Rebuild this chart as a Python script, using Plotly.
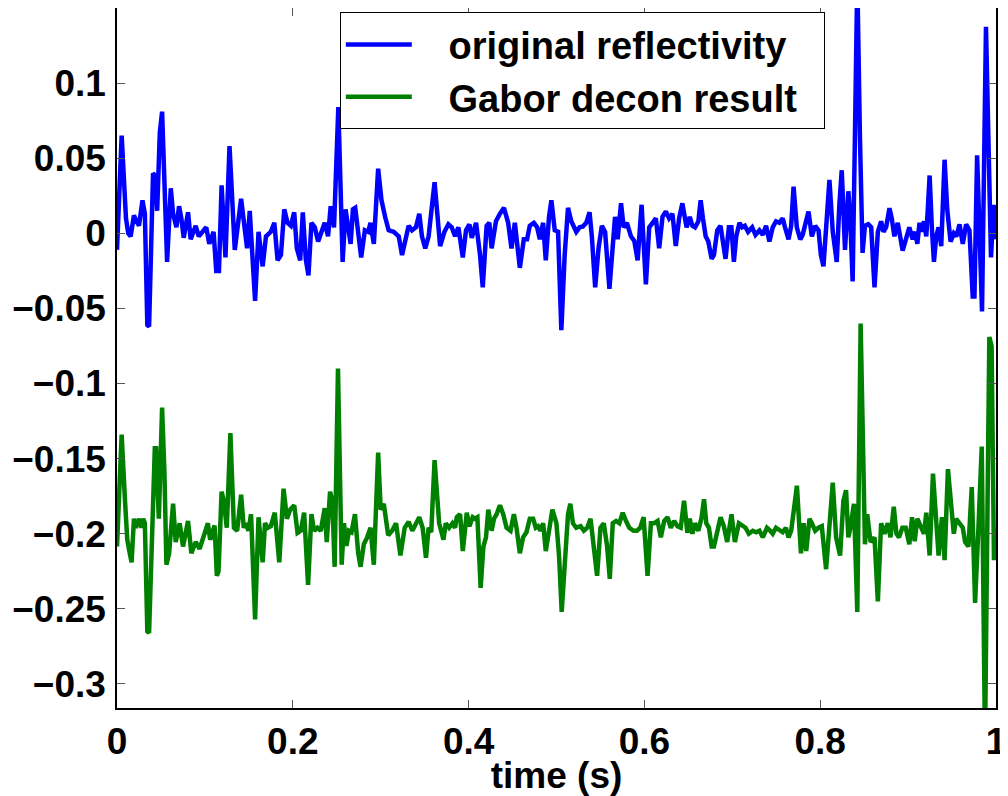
import plotly.graph_objects as go

# ---------------- data ----------------
t_orig = [0.0, 0.0053, 0.0102, 0.0128, 0.0155, 0.0193, 0.0223, 0.025, 0.029, 0.0317,
          0.0345, 0.0365, 0.041, 0.0438, 0.0457, 0.0487, 0.0513, 0.054, 0.057, 0.0612,
          0.0638, 0.0676, 0.0706, 0.0732, 0.0759, 0.0808, 0.0838, 0.0895, 0.093, 0.1015,
          0.105, 0.1099, 0.1129, 0.116, 0.119, 0.1234, 0.128, 0.134, 0.1412, 0.1457,
          0.148, 0.151, 0.1571, 0.161, 0.1657, 0.1695, 0.175, 0.179, 0.1827, 0.1865,
          0.1903, 0.194, 0.1978, 0.2016, 0.2046, 0.2084, 0.2114, 0.2148, 0.2178, 0.2212,
          0.225, 0.2288, 0.2326, 0.2363, 0.2401, 0.2431, 0.2469, 0.2518, 0.2567, 0.260,
          0.2658, 0.2684, 0.271, 0.2752, 0.2778, 0.282, 0.2858, 0.2884, 0.2922, 0.2971,
          0.3009, 0.3054, 0.3091, 0.3148, 0.3205, 0.3243, 0.328, 0.3318, 0.3356, 0.3401,
          0.3439, 0.3469, 0.3507, 0.3545, 0.3613, 0.365, 0.3676, 0.3725, 0.377, 0.3808,
          0.3846, 0.3884, 0.3934, 0.3971, 0.4009, 0.4036, 0.4085, 0.413, 0.4161, 0.4205,
          0.4236, 0.4262, 0.4311, 0.4356, 0.4402, 0.445, 0.4488, 0.4526, 0.4583, 0.4628,
          0.4665, 0.4696, 0.4742, 0.478, 0.481, 0.4848, 0.4878, 0.4915, 0.4942, 0.498,
          0.5018, 0.5055, 0.5093, 0.5131, 0.5168, 0.5225, 0.5262, 0.530, 0.5338, 0.5376,
          0.5402, 0.5440, 0.5478, 0.5516, 0.5553, 0.5602, 0.564, 0.5666, 0.5696, 0.5734,
          0.5764, 0.5801, 0.5847, 0.5885, 0.5923, 0.5968, 0.6017, 0.6055, 0.6093, 0.613,
          0.6168, 0.6206, 0.6244, 0.6281, 0.6319, 0.6357, 0.6395, 0.6432, 0.648, 0.6516,
          0.6546, 0.6576, 0.6614, 0.6640, 0.6666, 0.6697, 0.6727, 0.6765, 0.6791, 0.6829,
          0.6866, 0.6893, 0.6923, 0.6961, 0.699, 0.7018, 0.7045, 0.7082, 0.7113, 0.7143,
          0.7180, 0.7226, 0.7264, 0.7309, 0.7347, 0.7384, 0.7422, 0.746, 0.7497, 0.7535,
          0.7573, 0.760, 0.764, 0.767, 0.7697, 0.7734, 0.7773, 0.780, 0.7841, 0.7867,
          0.7905, 0.7943, 0.7981, 0.8008, 0.8037, 0.8075, 0.8105, 0.8143, 0.8188, 0.8218,
          0.8245, 0.8282, 0.8320, 0.8339, 0.8369, 0.8395, 0.8422, 0.8452, 0.8482, 0.8509,
          0.8547, 0.858, 0.8618, 0.8656, 0.8693, 0.872, 0.875, 0.8788, 0.8814, 0.8844,
          0.8882, 0.8938, 0.8976, 0.9014, 0.9052, 0.9080, 0.9105, 0.913, 0.9155, 0.9181,
          0.9207, 0.9245, 0.927, 0.9294, 0.9320, 0.9347, 0.9377, 0.9415, 0.9445, 0.9483,
          0.952, 0.955, 0.9585, 0.9622, 0.966, 0.9698, 0.9735, 0.9755, 0.9785, 0.9811,
          0.9841, 0.9886, 0.9943, 0.9973, 1.0]
v_orig = [-0.011, 0.065, 0.010, 0.000, -0.002, 0.012, 0.008, 0.005, 0.022, 0.013,
          -0.061, -0.062, 0.040, 0.038, 0.015, 0.067, 0.081, 0.028, -0.019, 0.030,
          0.013, 0.004, 0.018, 0.010, -0.003, 0.014, -0.004, 0.005, -0.002, 0.004,
          -0.007, 0.001, -0.025, -0.025, 0.032, -0.016, 0.058, -0.011, 0.023, 0.001,
          -0.010, 0.015, -0.045, 0.001, -0.022, -0.002, 0.001, 0.007, -0.018, -0.0145,
          0.016, 0.007, 0.005, 0.014, -0.010, -0.018, 0.014, -0.0175, -0.028, 0.007,
          0.004, -0.0055, 0.002, 0.007, -0.002, 0.018, 0.004, 0.084, -0.019, 0.016,
          -0.007, 0.016, 0.017, -0.007, -0.016, 0.002, 0.001, 0.007, -0.007, 0.043,
          0.022, 0.010, 0.002, 0.001, -0.002, -0.0145, -0.004, 0.005, 0.002, 0.004,
          0.013, -0.002, -0.010, -0.002, 0.034, 0.010, -0.0085, 0.001, 0.006, 0.004,
          -0.002, 0.004, -0.016, 0.002, 0.006, -0.003, 0.007, -0.0145, -0.036, 0.005,
          0.007, -0.010, 0.008, 0.013, 0.017, 0.007, -0.010, 0.007, -0.023, -0.004,
          -0.004, 0.005, 0.007, 0.004, -0.004, 0.007, -0.018, 0.011, 0.022, 0.002,
          0.001, -0.0645, -0.0145, 0.017, 0.008, 0.001, 0.004, 0.0045, 0.007, 0.014,
          -0.002, -0.036, -0.010, 0.005, 0.001, -0.037, -0.0055, 0.011, -0.004, 0.020,
          0.004, 0.007, -0.002, -0.005, -0.018, 0.019, -0.034, 0.004, 0.007, 0.010,
          -0.010, 0.011, 0.0145, 0.010, 0.013, -0.0085, 0.010, 0.020, 0.004, 0.011,
          0.005, 0.004, 0.008, 0.022, 0.010, -0.002, -0.0055, -0.017, -0.0145, 0.002,
          0.005, -0.007, -0.017, 0.004, 0.004, -0.019, -0.002, 0.007, 0.004, 0.005,
          0.001, 0.004, -0.001, 0.002, -0.001, 0.005, -0.0055, 0.004, 0.008, 0.007,
          0.010, 0.004, -0.004, 0.005, 0.031, 0.004, -0.004, -0.001, 0.008, 0.0145,
          -0.002, 0.005, 0.002, -0.0145, -0.022, 0.013, 0.0355, 0.001, -0.019, 0.019,
          0.042, -0.011, 0.028, 0.014, -0.032, 0.064, 0.170, 0.064, -0.013, 0.005,
          0.006, 0.004, -0.036, 0.001, 0.008, 0.001, 0.004, 0.0167, 0.010, -0.002,
          0.007, -0.0115, -0.004, 0.004, -0.004, 0.001, -0.007, 0.007, 0.001, 0.008,
          -0.002, 0.0385, 0.004, -0.019, -0.002, 0.004, -0.0085, 0.049, 0.016, -0.0055,
          0.000, -0.002, 0.006, -0.007, 0.006, 0.002, -0.042, -0.042, 0.052, -0.0085,
          -0.052, 0.1375, -0.016, 0.019, -0.004]

t_gabor = [0.0, 0.0053, 0.0091, 0.0117, 0.0140, 0.0166, 0.0193, 0.0215, 0.0253, 0.0279,
           0.0298, 0.0317, 0.0345, 0.0365, 0.0430, 0.0445, 0.0476, 0.0513, 0.054, 0.0562,
           0.0593, 0.0638, 0.0668, 0.0713, 0.0751, 0.0808, 0.0846, 0.0895, 0.094, 0.0985,
           0.1034, 0.106, 0.1110, 0.1136, 0.1155, 0.119, 0.1215, 0.1249, 0.129, 0.133,
           0.1367, 0.1412, 0.1442, 0.1468, 0.1495, 0.1525, 0.1571, 0.161, 0.1657, 0.1684,
           0.1715, 0.175, 0.1795, 0.1846, 0.1895, 0.1933, 0.197, 0.2016, 0.2054, 0.2091,
           0.2129, 0.2174, 0.2212, 0.2242, 0.228, 0.2318, 0.2363, 0.2386, 0.2424, 0.245,
           0.2476, 0.2514, 0.2556, 0.2582, 0.261, 0.2639, 0.2668, 0.2707, 0.2744, 0.2771,
           0.2808, 0.2846, 0.2884, 0.2922, 0.2971, 0.300, 0.3035, 0.3085, 0.313, 0.3175,
           0.3224, 0.3273, 0.3318, 0.336, 0.3401, 0.3439, 0.3477, 0.3515, 0.3545, 0.3575,
           0.3613, 0.364, 0.3665, 0.3714, 0.374, 0.3778, 0.3816, 0.3846, 0.3866, 0.3903,
           0.3934, 0.3979, 0.4009, 0.4047, 0.4073, 0.4100, 0.4137, 0.4168, 0.4198, 0.4224,
           0.4262, 0.4289, 0.4319, 0.4356, 0.4394, 0.4432, 0.4477, 0.4515, 0.4545, 0.4583,
           0.462, 0.4658, 0.4696, 0.4734, 0.4764, 0.479, 0.4817, 0.4848, 0.4878, 0.4915,
           0.4953, 0.4999, 0.5029, 0.5059, 0.5093, 0.5131, 0.5157, 0.5187, 0.5225, 0.5274,
           0.5311, 0.5349, 0.5387, 0.5425, 0.5462, 0.550, 0.5538, 0.5576, 0.5606, 0.564,
           0.5678, 0.5715, 0.5753, 0.5791, 0.5828, 0.5877, 0.5915, 0.5953, 0.5991, 0.6036,
           0.6074, 0.6112, 0.615, 0.6187, 0.6225, 0.6263, 0.630, 0.6338, 0.6376, 0.6413,
           0.6451, 0.6489, 0.6516, 0.6546, 0.6576, 0.6614, 0.6651, 0.6678, 0.6704, 0.6734,
           0.6765, 0.6791, 0.6829, 0.6866, 0.6904, 0.6942, 0.6991, 0.7029, 0.7075, 0.7113,
           0.715, 0.7188, 0.7233, 0.7271, 0.7309, 0.7347, 0.7395, 0.7433, 0.746, 0.7497,
           0.7535, 0.7573, 0.7610, 0.764, 0.767, 0.7735, 0.7781, 0.7811, 0.7841, 0.7878,
           0.7905, 0.7943, 0.7981, 0.8018, 0.8067, 0.8105, 0.8143, 0.8181, 0.8226, 0.8264,
           0.8294, 0.832, 0.8347, 0.8384, 0.8422, 0.846, 0.849, 0.8509, 0.8535, 0.8573,
           0.8618, 0.8656, 0.8693, 0.8731, 0.8769, 0.880, 0.8837, 0.8867, 0.8897, 0.8935,
           0.8973, 0.9014, 0.9045, 0.9075, 0.9105, 0.9143, 0.9181, 0.9207, 0.9245, 0.9283,
           0.932, 0.9347, 0.9385, 0.9415, 0.9453, 0.9490, 0.952, 0.9547, 0.9585, 0.9622,
           0.9649, 0.9687, 0.9724, 0.9762, 0.9800, 0.9838, 0.9875, 0.9924, 0.995, 0.9977,
           1.0]
v_gabor = [-0.2085, -0.134, -0.178, -0.204, -0.2115, -0.219, -0.190, -0.196, -0.190, -0.196,
           -0.190, -0.193, -0.265, -0.266, -0.143, -0.143, -0.190, -0.116, -0.160, -0.2206,
           -0.213, -0.180, -0.2055, -0.193, -0.2085, -0.1915, -0.213, -0.2055, -0.210, -0.2024,
           -0.193, -0.204, -0.1945, -0.228, -0.225, -0.172, -0.178, -0.196, -0.133, -0.196,
           -0.198, -0.174, -0.196, -0.193, -0.198, -0.187, -0.257, -0.189, -0.219, -0.193,
           -0.196, -0.195, -0.186, -0.219, -0.170, -0.190, -0.184, -0.181, -0.1994, -0.198,
           -0.186, -0.234, -0.187, -0.198, -0.196, -0.198, -0.183, -0.2055, -0.172, -0.178,
           -0.222, -0.090, -0.2206, -0.193, -0.208, -0.198, -0.199, -0.187, -0.213, -0.222,
           -0.207, -0.2024, -0.196, -0.2206, -0.146, -0.184, -0.180, -0.201, -0.198, -0.193,
           -0.2145, -0.196, -0.192, -0.198, -0.193, -0.189, -0.196, -0.216, -0.196, -0.199,
           -0.151, -0.178, -0.193, -0.204, -0.193, -0.196, -0.193, -0.196, -0.189, -0.187,
           -0.2115, -0.186, -0.195, -0.189, -0.190, -0.189, -0.236, -0.2085, -0.2024, -0.184,
           -0.198, -0.190, -0.187, -0.181, -0.187, -0.196, -0.198, -0.187, -0.196, -0.213,
           -0.2024, -0.199, -0.190, -0.190, -0.196, -0.195, -0.198, -0.193, -0.2115, -0.198,
           -0.184, -0.193, -0.2145, -0.252, -0.2206, -0.187, -0.180, -0.193, -0.196, -0.195,
           -0.198, -0.196, -0.190, -0.2085, -0.228, -0.196, -0.193, -0.2085, -0.230, -0.193,
           -0.1915, -0.193, -0.186, -0.1915, -0.196, -0.198, -0.198, -0.196, -0.189, -0.228,
           -0.193, -0.193, -0.1915, -0.2024, -0.1915, -0.189, -0.196, -0.1915, -0.195, -0.196,
           -0.178, -0.1994, -0.190, -0.200, -0.193, -0.198, -0.189, -0.177, -0.193, -0.196,
           -0.2085, -0.2085, -0.198, -0.189, -0.195, -0.2055, -0.187, -0.2055, -0.193, -0.1945,
           -0.196, -0.200, -0.198, -0.199, -0.198, -0.2024, -0.196, -0.198, -0.200, -0.196,
           -0.198, -0.199, -0.196, -0.2024, -0.198, -0.168, -0.213, -0.193, -0.2115, -0.190,
           -0.193, -0.198, -0.196, -0.195, -0.2236, -0.193, -0.166, -0.2024, -0.2145, -0.178,
           -0.171, -0.2024, -0.195, -0.180, -0.252, -0.060, -0.178, -0.207, -0.187, -0.2055,
           -0.2024, -0.245, -0.193, -0.200, -0.193, -0.2024, -0.182, -0.200, -0.2024, -0.196,
           -0.196, -0.207, -0.189, -0.205, -0.190, -0.196, -0.200, -0.186, -0.2145, -0.160,
           -0.196, -0.2145, -0.189, -0.2176, -0.157, -0.186, -0.200, -0.190, -0.193, -0.196,
           -0.2055, -0.2085, -0.169, -0.246, -0.196, -0.142, -0.340, -0.069, -0.075, -0.2176,
           -0.196]

series_names = ["original reflectivity", "Gabor decon result"]
series_colors = ["#0000FF", "#008000"]

x_ticks = [0, 0.2, 0.4, 0.6, 0.8, 1]
x_ticktext = ["0", "0.2", "0.4", "0.6", "0.8", "1"]
y_ticks = [0.1, 0.05, 0, -0.05, -0.1, -0.15, -0.2, -0.25, -0.3]
y_ticktext = ["0.1", "0.05", "0", "\u22120.05", "\u22120.1", "\u22120.15", "\u22120.2", "\u22120.25", "\u22120.3"]

x_title = "time (s)"

# ---------------- figure ----------------
# The page body has an 8 px default margin, so the figure is drawn 8 px in from
# the top-left of the window; size and margins compensate for it.
FONT = "Liberation Sans, Arial, Helvetica, sans-serif"
LEAD = "\u00a0\u00a0\u00a0"   # gap between legend line and label
TRAIL = "\u00a0\u00a0"        # right padding inside legend box

fig = go.Figure()
for t, v, name, col in [(t_orig, v_orig, series_names[0], series_colors[0]),
                        (t_gabor, v_gabor, series_names[1], series_colors[1])]:
    fig.add_trace(go.Scatter(x=t, y=v, mode="lines", name=LEAD + name + TRAIL,
                             line=dict(color=col, width=4.5)))

axis_common = dict(
    showline=True, linecolor="black", linewidth=1.5, mirror="ticks",
    ticks="inside", ticklen=8, tickwidth=1, tickcolor="#555555",
    showgrid=False, zeroline=False, automargin=False,
    tickfont=dict(family=FONT, size=37, color="black", weight="bold"),
)

fig.update_layout(
    width=1000, height=788,
    paper_bgcolor="white", plot_bgcolor="white",
    margin=dict(l=109, r=12, t=0, b=88),
    font=dict(family=FONT, color="black"),
    showlegend=True,
    legend=dict(
        x=0.2535, y=0.994, xanchor="left", yanchor="top",
        bgcolor="white", bordercolor="black", borderwidth=1,
        font=dict(family=FONT, size=38, color="black", weight="bold"),
        itemwidth=66,
        tracegroupgap=0,
    ),
    xaxis=dict(axis_common, range=[0, 1], tickvals=x_ticks, ticktext=x_ticktext,
               ticklabelstandoff=0, ticklabeloverflow="allow",
               title=dict(text=x_title,
                          font=dict(family=FONT, size=37, color="black", weight="bold"))),
    yaxis=dict(axis_common, range=[-0.316, 0.15], tickvals=y_ticks, ticktext=y_ticktext,
               ticklabelstandoff=2),
)

fig.write_html("out.html")
